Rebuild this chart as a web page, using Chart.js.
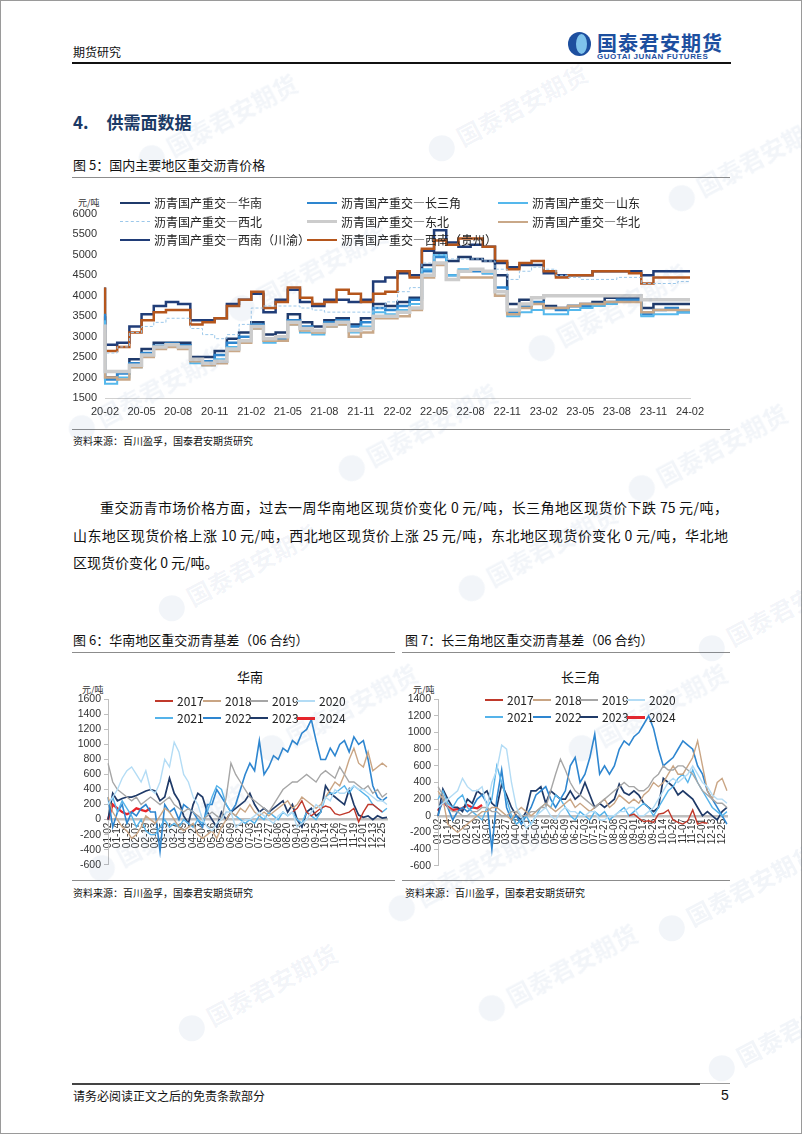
<!DOCTYPE html>
<html lang="zh-CN">
<head>
<meta charset="UTF-8">
<title>供需面数据</title>
<script src="https://cdn.jsdelivr.net/npm/chart.js"></script>
<style>
    body {
        margin: 0;
        width: 802px;
        height: 1134px;
        position: relative;
        background: #fff;
        font-family: "Noto Sans CJK SC", sans-serif;
        color: #111;
        overflow: hidden;
    }
    .frame {
        position: absolute;
        left: 0; top: 0;
        width: 800px; height: 1132px;
        border: 1px solid #9a9a9a;
    }
    .abs { position: absolute; white-space: nowrap; line-height: 1; }
    .rule { position: absolute; height: 1px; background: #8c8c8c; }
    .box { position: absolute; }
    .lg-line { position: absolute; height: 0; }
    .lg-text { position: absolute; white-space: nowrap; line-height: 1; font-size: 12px; color: #222; }
    .para { position: absolute; left: 73px; top: 494px; width: 655px; font-size: 14px; line-height: 27.5px; }
    .para div { text-align: justify; text-align-last: justify; }
    .para div.last { text-align-last: left; }
    .wm { position: absolute; white-space: nowrap; transform: rotate(-28deg); color: rgba(70, 110, 170, 0.07);
          font-size: 24px; font-weight: bold; line-height: 1; pointer-events: none; z-index: 5; }
    .wm i { display: inline-block; width: 26px; height: 26px; border-radius: 50%; background: rgba(70, 110, 170, 0.07);
            margin-right: 6px; vertical-align: -4px; }
</style>
</head>
<body>
<div class="frame"></div>

<!-- 页眉 -->
<div class="abs" style="left:73px; top:46px; font-size:12px;">期货研究</div>
<div class="box" style="left:568px; top:32px; width:23px; height:24px; border-radius:50%; background:#1d4f9f;"></div>
<div class="box" style="left:576px; top:34px; width:11px; height:20px; border-radius:50%; background:#7fc3ec;"></div>
<div class="abs" style="left:597px; top:33px; font-size:20px; font-weight:bold; color:#1d4f9f; letter-spacing:1px;">国泰君安期货</div>
<div class="abs" style="left:597px; top:53px; font-size:8px; font-weight:bold; color:#1d4f9f; letter-spacing:0.55px; font-family:'Liberation Sans', Arial, sans-serif;">GUOTAI JUNAN FUTURES</div>
<div class="box" style="left:72px; top:62px; width:659px; height:2px; background:#111;"></div>

<div class="abs" style="left:73px; top:113px; font-size:17px; font-weight:bold; color:#1b3a66;">4.<span style="margin-left:18px;">供需面数据</span></div>

<!-- 图5 -->
<div class="abs" style="left:73px; top:158px; font-size:13px;">图 5：国内主要地区重交沥青价格</div>
<div class="rule" style="left:72px; top:177px; width:658px;"></div>
<div class="abs" style="left:78px; top:198px; font-size:9px; color:#333;">元/吨</div>
<div class="box" style="left:72px; top:178px; width:660px; height:242px;"><canvas id="priceChart"></canvas></div>
<div id="priceLegend"></div>
<div class="rule" style="left:72px; top:429px; width:658px;"></div>
<div class="abs" style="left:73px; top:436px; font-size:10px;">资料来源：百川盈孚，国泰君安期货研究</div>

<div class="para">
    <div style="text-indent:27px;">重交沥青市场价格方面，过去一周华南地区现货价变化 0 元/吨，长三角地区现货价下跌 75 元/吨，</div>
    <div>山东地区现货价格上涨 10 元/吨，西北地区现货价上涨 25 元/吨，东北地区现货价变化 0 元/吨，华北地</div>
    <div class="last">区现货价变化 0 元/吨。</div>
</div>

<!-- 图6 / 图7 -->
<div class="abs" style="left:73px; top:633px; font-size:13px;">图 6：华南地区重交沥青基差（06 合约）</div>
<div class="rule" style="left:72px; top:652px; width:323px;"></div>
<div class="abs" style="left:405px; top:633px; font-size:13px;">图 7：长三角地区重交沥青基差（06 合约）</div>
<div class="rule" style="left:402px; top:652px; width:328px;"></div>

<div class="abs" style="left:237px; top:670px; font-size:13px;">华南</div>
<div class="abs" style="left:561px; top:670px; font-size:13px;">长三角</div>
<div class="abs" style="left:82px; top:685px; font-size:9px; color:#333;">元/吨</div>
<div class="abs" style="left:413px; top:685px; font-size:9px; color:#333;">元/吨</div>

<div class="box" style="left:72px; top:690px; width:330px; height:184px;"><canvas id="hnChart"></canvas></div>
<div class="box" style="left:402px; top:690px; width:340px; height:185px;"><canvas id="csjChart"></canvas></div>
<div id="hnLegend"></div>
<div id="csjLegend"></div>

<div class="rule" style="left:72px; top:880px; width:323px;"></div>
<div class="rule" style="left:402px; top:880px; width:328px;"></div>
<div class="abs" style="left:73px; top:888px; font-size:10px;">资料来源：百川盈孚，国泰君安期货研究</div>
<div class="abs" style="left:405px; top:888px; font-size:10px;">资料来源：百川盈孚，国泰君安期货研究</div>

<!-- 页脚 -->
<div class="box" style="left:72px; top:1083px; width:628px; height:2px; background:#444;"></div>
<div class="box" style="left:700px; top:1083px; width:30px; height:1px; background:#999;"></div>
<div class="abs" style="left:73px; top:1090px; font-size:12px;">请务必阅读正文之后的免责条款部分</div>
<div class="abs" style="left:721px; top:1088px; font-size:14px; font-family:'Liberation Sans', Arial, sans-serif;">5</div>

<div id="watermarks"></div>

<script>
// ---------- 图5 数据：月度，20-02 至 24-02 ----------
const months = ['20-02','20-03','20-04','20-05','20-06','20-07','20-08','20-09','20-10','20-11','20-12',
    '21-01','21-02','21-03','21-04','21-05','21-06','21-07','21-08','21-09','21-10','21-11','21-12',
    '22-01','22-02','22-03','22-04','22-05','22-06','22-07','22-08','22-09','22-10','22-11','22-12',
    '23-01','23-02','23-03','23-04','23-05','23-06','23-07','23-08','23-09','23-10','23-11','23-12',
    '24-01','24-02'];
const priceNames = ['沥青国产重交—华南', '沥青国产重交—长三角', '沥青国产重交—山东',
    '沥青国产重交—西北', '沥青国产重交—东北', '沥青国产重交—华北',
    '沥青国产重交—西南（川渝）', '沥青国产重交—西南（贵州）'];
const huanan = [3500,2000,2150,2450,2700,2850,2850,2850,2500,2500,2650,2950,3100,3350,3050,3100,3550,3350,3250,3400,3450,3300,3450,3800,3750,
    3850,3950,4750,5050,4850,4950,4900,4850,4500,3800,3900,3950,3750,3700,3750,3800,3850,3950,3950,3950,3700,3800,3800,3800];
const changsanjiao = [3560,1950,2100,2350,2600,2780,2830,2790,2450,2400,2550,2850,3000,3300,2950,2950,3400,3250,3150,3350,3400,3250,3350,3700,3650,
    3750,3900,4600,4950,4500,4600,4600,4550,4200,3600,3750,3850,3700,3650,3750,3750,3800,3850,3900,3900,3550,3650,3700,3600];
const shandong = [3400,1850,2000,2250,2500,2700,2750,2700,2350,2300,2450,2750,2900,3200,2850,2900,3300,3100,3050,3250,3300,3100,3250,3600,3550,
    3650,3800,4650,5000,4500,4650,4650,4550,4000,3500,3600,3650,3550,3550,3650,3700,3750,3800,3850,3850,3500,3550,3550,3600];
const xibei = [3300,2600,2750,3100,3250,3350,3450,3450,3200,3050,2950,3050,3300,3700,3750,3750,3750,3700,3650,3600,3600,3600,3600,3700,3850,
    4100,4200,4800,5000,4900,4900,4900,4850,4650,4400,4600,4700,4650,4500,4450,4400,4400,4400,4450,4450,4300,4300,4300,4350];
const dongbei = [3300,2150,2150,2300,2550,2750,2800,2750,2450,2350,2400,2700,2900,3250,2950,3000,3350,3200,3150,3300,3350,3150,3200,3500,3500,
    3600,3700,4500,4800,4400,4600,4650,4600,4100,3650,3800,3950,4000,4000,4000,4000,4000,4000,4000,4000,3900,3900,3900,3900];
const huabei = [3100,2000,1950,2250,2500,2700,2750,2700,2400,2300,2350,2650,2850,3200,2900,2900,3300,3150,3100,3250,3300,3000,3100,3450,3450,
    3500,3650,4450,4750,4400,4450,4450,4450,4000,3550,3700,3800,3700,3700,3750,3800,3800,3850,3850,3850,3600,3650,3650,3650];
const chuanyu = [4200,2800,2850,3250,3550,3750,3850,3800,3400,3400,3450,3800,3900,4050,3600,3900,4150,3850,3750,3900,3900,3850,3900,4350,4450,
    4550,4500,5100,5600,5300,5200,5250,5200,4800,4700,4750,4750,4550,4500,4500,4500,4600,4600,4600,4600,4500,4600,4600,4600];
const guizhou = [4200,2650,2750,3100,3400,3600,3650,3650,3300,3350,3450,3750,3900,4100,3700,3850,4200,3950,3800,3850,4150,4050,3850,4050,4100,
    4600,4450,5150,5350,5250,5400,5400,5200,4850,4650,4800,4850,4600,4450,4500,4500,4600,4600,4600,4550,4300,4450,4450,4450];

// ---------- 图6/图7 数据：交易日刻度，每两个点对应一个标签 ----------
const basisDates = ['01-02','01-14','01-26','02-07','02-19','03-03','03-15','03-27','04-09','04-21',
    '05-04','05-16','05-28','06-09','06-21','07-03','07-15','07-27','08-08','08-20',
    '09-01','09-13','09-25','10-14','10-26','11-07','11-19','12-01','12-13','12-25'];
const years = ['2017','2018','2019','2020','2021','2022','2023','2024'];
const N = null;

const hn2017 = [N,N,N,N,N,N,N,N,N,N, N,N,N,N,N,N,N,N,N,N, N,N,N,N,N,N,N,N,N,N, N,N,N,N,N,N,N,N,N,100,
    150,250,100,50,100,150,180,160,80,60, 80,100,150,-30,100,200,200,150,100,N];
const hn2018 = [300,100,0,-100,-150,-250,-200,-100,50,0, -50,50,150,100,0,-100,-150,-100,-50,-200,
    -250,-200,-150,-250,-100,0,100,50,150,100, 200,100,50,100,50,100,150,200,250,150,
    200,300,250,200,150,200,300,400,500,450, 600,800,950,750,700,900,650,700,750,700];
const hn2019 = [750,500,400,350,300,250,300,200,250,300, 250,200,250,300,200,150,100,150,100,50,
    0,50,100,50,0,300,750,600,500,400, 300,250,200,150,100,200,300,400,450,500,
    500,550,600,550,500,600,650,600,550,700, 600,500,500,450,400,450,350,400,300,350];
const hn2020 = [200,300,400,550,650,700,600,500,650,400, 350,500,800,700,1030,900,600,500,300,200,
    0,-100,-150,-50,0,100,100,-100,-50,0, 0,50,100,50,0,-50,50,100,50,100,
    -100,-50,0,100,200,150,300,250,400,350, 350,400,450,400,400,350,300,250,250,200];
const hn2021 = [200,300,100,250,150,50,-100,0,-150,-200, -200,-100,0,-100,-50,-100,0,-50,-100,0,
    -50,100,300,450,400,200,100,50,0,-50, 0,-50,50,0,100,50,0,100,50,100,
    0,-50,100,50,0,100,300,350,350,400, 450,350,450,400,350,300,200,150,100,150];
const hn2022 = [300,-100,100,200,-50,100,50,150,200,100, 100,-420,200,100,150,0,200,150,100,0,
    -100,200,200,400,300,200,100,200,400,600, 750,650,1050,600,700,850,800,950,900,1050,
    1000,1150,1200,1330,1050,800,800,950,850,1000, 1050,900,1100,1000,1050,800,450,300,250,300];
const hn2023 = [0,350,250,280,300,300,320,350,380,400, 380,250,300,550,350,250,50,-50,200,350,
    300,100,0,-100,100,0,100,150,200,250, 350,200,100,150,100,150,200,250,100,200,
    0,-100,100,150,50,100,450,350,300,250, 200,400,200,60,30,50,0,50,20,30];
const hn2024 = [0,200,150,100,70,100,150,130,110,150];

const csj2017 = [N,N,N,N,N,N,N,N,N,N, N,N,N,N,N,N,N,N,N,N, N,N,N,N,N,N,N,N,N,N, N,N,N,N,N,N,N,N,N,0,
    20,-30,-70,-60,-80,20,30,70,-50,-80, -100,-60,70,-100,-80,-90];
const csj2018 = [300,200,-100,-150,-200,-150,-100,-50,0,50, 50,100,100,50,0,-50,50,100,50,0,
    50,100,150,100,50,100,150,200,100,150, 100,50,100,150,200,100,150,250,200,150,
    200,150,250,300,400,350,400,500,600,500, 500,600,700,900,600,300,200,400,450,300];
const csj2019 = [350,250,100,50,50,0,0,50,50,100, 100,50,50,0,0,50,50,0,0,50,
    50,100,100,300,500,680,550,400,300,250, 200,150,100,150,200,250,300,350,400,350,
    350,300,300,350,450,500,600,550,550,600, 600,550,500,400,300,250,200,150,150,100];
const csj2020 = [100,150,200,250,300,450,350,300,300,350, 100,400,550,850,800,400,100,0,-150,-100,
    0,50,100,0,-50,50,100,50,50,0, 0,50,50,-50,-50,0,0,50,50,100,
    100,0,0,50,100,200,300,400,450,400, 450,500,600,500,400,350,250,200,200,150];
const csj2021 = [200,300,150,100,200,250,100,50,0,-50, 100,200,600,400,200,0,-100,-50,0,-100,
    0,100,150,100,250,200,100,0,-50,50, 0,-50,50,0,50,-50,0,50,100,0,
    50,100,150,100,0,100,200,300,350,450, 500,400,550,400,300,200,100,50,0,50];
const csj2022 = [0,200,100,-50,50,100,50,100,200,250, 150,-400,200,550,100,-50,0,-100,0,100,
    250,300,350,200,100,200,300,600,700,400, 500,700,980,500,600,500,600,800,900,850,
    950,1000,1100,1200,1050,800,600,650,700,800, 900,850,800,600,500,300,200,100,0,-100];
const csj2023 = [0,320,200,100,100,50,200,150,300,250, 300,150,100,380,250,100,0,-50,50,300,
    300,350,150,300,250,200,200,300,200,250, 400,250,100,150,100,150,200,380,280,250,
    300,250,150,100,50,100,450,400,350,250, 300,250,200,100,0,50,0,-50,50,100];
const csj2024 = [60,170,110,70,80,90,130,100,90,130];

// ---------- 样式 ----------
const priceColors = ['#1f3a6b', '#2e86cf', '#55b8ec', '#9cc8ea', '#cccccc', '#c9a888', '#203d78', '#b5561c'];
const priceWidths = [2.5, 2.5, 2, 1, 3.5, 2.5, 2.5, 2.5];
const yearColors = ['#c0392b', '#c9a584', '#a6a6a6', '#b3dcf5', '#55b3ea', '#2e86d0', '#1f3a68', '#e8242a'];
const yearWidths = [1.4, 1.4, 1.4, 1.4, 1.4, 1.6, 1.7, 2.3];
const sansFont = "'Liberation Sans', Arial, sans-serif";

Chart.defaults.font.family = sansFont;
Chart.defaults.color = '#333';

function addLegend(holderId, names, colors, widths, dashed, spots, lineLen, textGap) {
    const holder = document.getElementById(holderId);
    names.forEach((name, i) => {
        const [x, y] = spots[i];
        const ln = document.createElement('div');
        ln.className = 'lg-line';
        ln.style.left = x + 'px';
        ln.style.top = (y - Math.max(widths[i], 2) / 2) + 'px';
        ln.style.width = lineLen + 'px';
        ln.style.borderTop = Math.max(widths[i], 2.5) + 'px ' + (dashed[i] ? 'dashed ' : 'solid ') + colors[i];
        if (dashed[i]) ln.style.borderTopWidth = '1px';
        holder.appendChild(ln);
        const tx = document.createElement('div');
        tx.className = 'lg-text';
        tx.style.left = (x + lineLen + textGap) + 'px';
        tx.style.top = (y - 6) + 'px';
        tx.textContent = name;
        holder.appendChild(tx);
    });
}

// ---------- 图5 ----------
const priceSeries = [huanan, changsanjiao, shandong, xibei, dongbei, huabei, chuanyu, guizhou];
const priceOrder = [4, 5, 3, 2, 1, 0, 7, 6]; // 绘制顺序：浅色在下
new Chart(document.getElementById('priceChart'), {
    type: 'line',
    data: {
        labels: months,
        datasets: priceOrder.map(i => ({
            label: priceNames[i],
            data: priceSeries[i],
            borderColor: priceColors[i],
            borderWidth: priceWidths[i],
            borderDash: i === 3 ? [3, 2] : [],
            stepped: 'after',
            pointRadius: 0,
            fill: false
        }))
    },
    options: {
        responsive: true,
        maintainAspectRatio: false,
        animation: false,
        layout: { padding: { top: 36, right: 42, left: 0, bottom: 0 } },
        plugins: { legend: { display: false }, tooltip: { enabled: false } },
        scales: {
            x: {
                grid: { display: false, drawTicks: false },
                border: { display: true, color: '#d0d0d0', width: 1 },
                ticks: {
                    autoSkip: false, maxRotation: 0, padding: 7,
                    font: { size: 11 },
                    callback: (v, i) => i % 3 === 0 ? months[i] : ''
                },
                afterFit: s => { s.height = 22; }
            },
            y: {
                min: 1500, max: 6000,
                grid: { display: false, drawTicks: false },
                border: { display: false },
                ticks: { stepSize: 500, autoSkip: false, padding: 8, font: { size: 11 }, callback: v => String(v) },
                afterFit: s => { s.width = 33; }
            }
        }
    }
});
addLegend('priceLegend', priceNames, priceColors, priceWidths, [0, 0, 0, 1, 0, 0, 0, 0],
    [[120, 203], [307, 203], [498, 203], [120, 222], [307, 222], [498, 222], [120, 240], [307, 240]], 30, 4);

// ---------- 图6 / 图7 ----------
const basisLabels = basisDates.flatMap(d => [d, '']);

function basisChart(canvasId, series, yMax, rightPad) {
    const order = [3, 2, 1, 0, 4, 5, 6, 7];
    return new Chart(document.getElementById(canvasId), {
        type: 'line',
        data: {
            labels: basisLabels,
            datasets: order.map(i => ({
                label: years[i],
                data: series[i],
                borderColor: yearColors[i],
                borderWidth: yearWidths[i],
                pointRadius: 0,
                spanGaps: false,
                fill: false
            }))
        },
        options: {
            responsive: true,
            maintainAspectRatio: false,
            animation: false,
            layout: { padding: { top: 0, right: rightPad, left: 0, bottom: 0 } },
            plugins: { legend: { display: false }, tooltip: { enabled: false } },
            scales: {
                x: {
                    position: { y: 0 },
                    grid: { display: false, drawTicks: false },
                    border: { display: true, color: '#bfbfbf', width: 2.5 },
                    ticks: {
                        autoSkip: false, maxRotation: 90, minRotation: 90, padding: 3,
                        font: { size: 10 }, color: '#333',
                        callback: (v, i) => basisLabels[i]
                    },
                    afterFit: s => { s.height = 0; }
                },
                y: {
                    min: -600, max: yMax,
                    grid: { drawOnChartArea: false, drawTicks: true, tickLength: 4, color: '#bfbfbf' },
                    border: { display: true, color: '#bfbfbf', width: 1 },
                    ticks: { stepSize: 200, autoSkip: false, padding: 3, font: { size: 10.5 }, callback: v => String(v) },
                    afterFit: s => { s.width = 36; }
                }
            }
        }
    });
}

basisChart('hnChart', [hn2017, hn2018, hn2019, hn2020, hn2021, hn2022, hn2023, hn2024], 1600, 2);
basisChart('csjChart', [csj2017, csj2018, csj2019, csj2020, csj2021, csj2022, csj2023, csj2024], 1400, 4);

addLegend('hnLegend', years, yearColors, [2.5, 2.5, 2.5, 2.5, 2.5, 2.5, 2.5, 3], [0, 0, 0, 0, 0, 0, 0, 0],
    [[155, 701], [203, 701], [250, 701], [297, 701], [155, 718], [203, 718], [250, 718], [297, 718]], 18, 4);
addLegend('csjLegend', years, yearColors, [2.5, 2.5, 2.5, 2.5, 2.5, 2.5, 2.5, 3], [0, 0, 0, 0, 0, 0, 0, 0],
    [[485, 700], [533, 700], [580, 700], [627, 700], [485, 717], [533, 717], [580, 717], [627, 717]], 18, 4);

// 页面水印
const wmSpots = [[130, 110], [420, 100], [660, 150], [220, 260], [520, 300], [60, 380], [330, 420], [620, 440],
    [150, 560], [450, 540], [690, 600], [250, 700], [560, 700], [80, 820], [380, 860], [650, 880],
    [170, 980], [470, 960], [700, 1020]];
const wmHolder = document.getElementById('watermarks');
wmSpots.forEach(([x, y]) => {
    const w = document.createElement('div');
    w.className = 'wm';
    w.style.left = x + 'px';
    w.style.top = y + 'px';
    w.innerHTML = '<i></i>国泰君安期货';
    wmHolder.appendChild(w);
});
</script>
</body>
</html>
